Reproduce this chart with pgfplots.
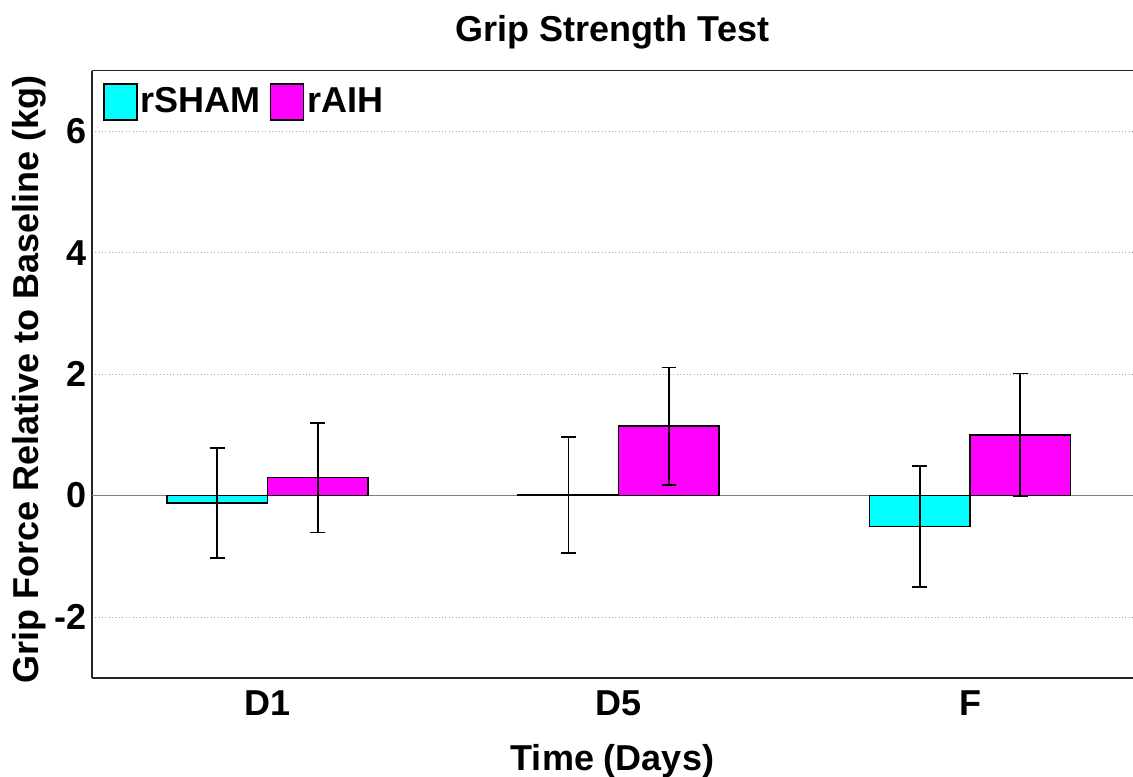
\documentclass[border=0pt]{standalone}
\usepackage{fontspec}
\setmainfont{Liberation Sans}
\usepackage{pgfplots}
\pgfplotsset{compat=1.18}

\definecolor{shamcol}{rgb}{0,1,1}
\definecolor{aihcol}{rgb}{1,0,1}

\pgfplotsset{
  squarelegend/.style={
    legend image code/.code={\draw[##1, draw=black, line width=0.8pt] (0pt,-9pt) rectangle (16.5pt,9pt);}
  }
}

\begin{document}
\begin{tikzpicture}
\begin{axis}[
  scale only axis,
  width=520.65pt, height=303.5pt,
  at={(0,0)}, anchor=south west,
  xmin=0.5, xmax=3.464,
  ymin=-3, ymax=7,
  xtick={1,2,3},
  xticklabels={D1,D5,F},
  ytick={-2,0,2,4,6},
  major tick length=0pt,
  axis lines*=left,
  axis line style={-, black!85, line width=0.8pt},
  ymajorgrids,
  grid style={gray!70, line width=0.5pt, dash pattern=on 0.5pt off 1.2pt},
  font=\fontsize{18}{21}\selectfont\bfseries,
  /pgf/number format/assume math mode=true,
  yticklabel style={anchor=east, inner sep=0pt, xshift=-2.4pt},
  xticklabel style={anchor=base, inner sep=0pt, yshift=-18.65pt},
  title={Grip Strength Test},
  title style={at={(axis description cs:0.5,1)}, anchor=base, inner sep=0pt, yshift=8.6pt},
  xlabel={Time (Days)},
  xlabel style={at={(axis description cs:0.5,0)}, anchor=base, inner sep=0pt, yshift=-46.15pt},
  ylabel={Grip Force Relative to Baseline (kg)},
  ylabel style={at={([xshift=-26.35pt,yshift=-2.5pt]axis description cs:0,0.5)}, anchor=base, inner sep=0pt},
  legend columns=2,
  legend style={draw=none, fill=none, at={(axis description cs:0,1)}, anchor=north west,
    xshift=5.5pt, yshift=-6pt, inner sep=0pt,
    nodes={inner xsep=1.5pt, inner ysep=0pt},
    /tikz/every even column/.append style={column sep=3pt}},
  ybar,
  bar width=0.286,
  error bars/y dir=both,
  error bars/y explicit,
  error bars/error bar style={black, line width=0.9pt},
  error bars/error mark options={rotate=90, black, line width=0.9pt, mark size=3.7pt},
]
% zero baseline behind the bars
\addplot[ybar=false, sharp plot, gray, line width=0.6pt, forget plot, error bars/y dir=none] coordinates {(0.5,0) (3.464,0)};

\addplot[fill=shamcol, draw=black, line width=0.8pt, bar shift=-0.143, squarelegend]
  coordinates {(1,-0.125) +- (0,0.905) (2,0.01) +- (0,0.962) (3,-0.51) +- (0,1.0)};
\addlegendentry{rSHAM}

\addplot[fill=aihcol, draw=black, line width=0.8pt, bar shift=0.143, squarelegend]
  coordinates {(1,0.296) +- (0,0.904) (2,1.145) +- (0,0.965) (3,1.003) +- (0,1.01)};
\addlegendentry{rAIH}

% top frame line (the right side stays open)
\draw[black!85, line width=0.8pt] (rel axis cs:0,1) -- (rel axis cs:1,1);
\end{axis}
\pgfresetboundingbox
\useasboundingbox (-45.85pt,-49.15pt) rectangle (520.65pt,338.85pt);
\end{tikzpicture}
\end{document}
